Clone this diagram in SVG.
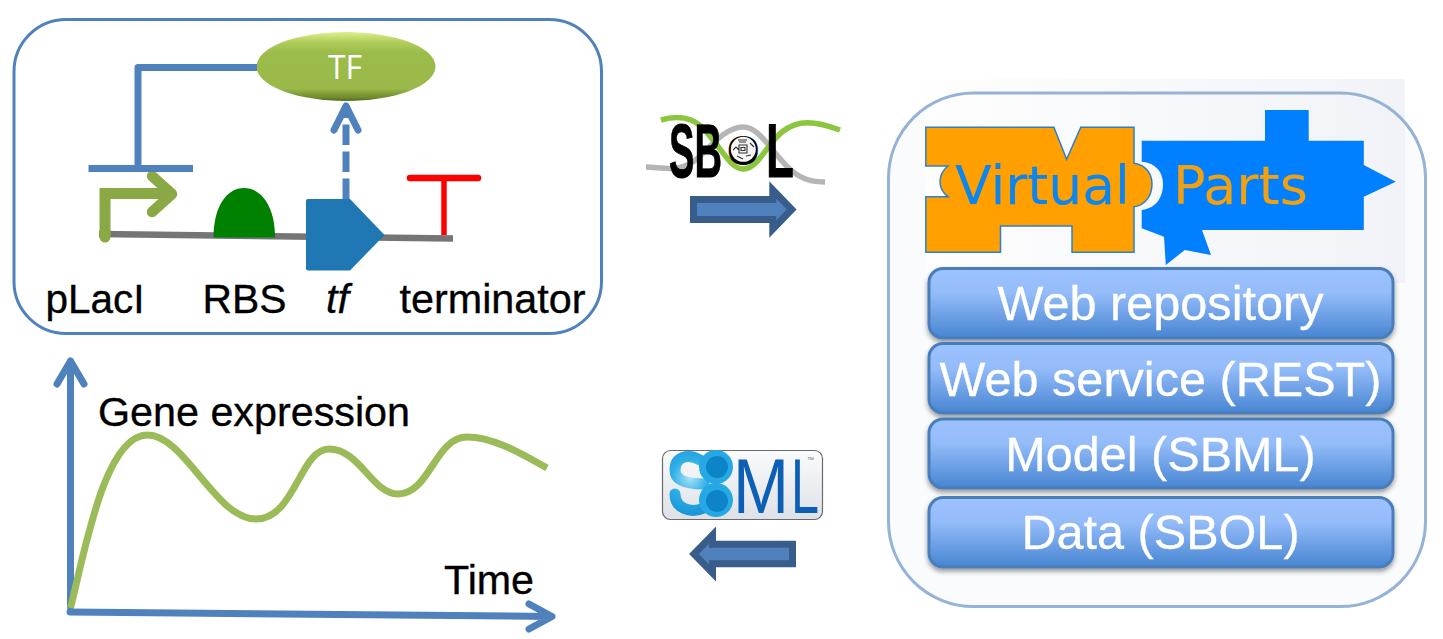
<svg xmlns="http://www.w3.org/2000/svg" width="1443" height="639" viewBox="0 0 1443 639">
<style>
text{font-family:"Liberation Sans",Arial,sans-serif}
.lbl{font-size:41px;fill:#000;stroke:#000;stroke-width:.35}
.btn{font-size:48.600px;fill:#fff;stroke:#fff;stroke-width:.3;text-anchor:middle}
.bx{stroke:#4a7ebb;stroke-width:3;fill:url(#btnG);filter:url(#sh)}
.bl{fill:none;stroke:#4f81bd;stroke-width:7;stroke-linejoin:round}
.rnd{stroke-linecap:round}
.blk{fill:#4f81bd;stroke:#385d8a;stroke-width:7;stroke-miterlimit:6}
.vp{font-family:"DejaVu Sans",sans-serif;font-size:54px}
</style>
<defs>
<linearGradient id="btnG" x1="0" y1="0" x2="0" y2="1"><stop offset="0" stop-color="#9cc2ff"/><stop offset=".35" stop-color="#94bcf9"/><stop offset="1" stop-color="#4785d2"/></linearGradient>
<linearGradient id="tfG" x1="0" y1="0" x2="0" y2="1"><stop offset="0" stop-color="#dcf08c"/><stop offset=".14" stop-color="#b2cf5c"/><stop offset=".3" stop-color="#9bbb4a"/><stop offset=".82" stop-color="#9ab94a"/><stop offset=".95" stop-color="#6f8b2c"/><stop offset="1" stop-color="#50681c"/></linearGradient>
<linearGradient id="vpG" x1="0" y1="0" x2="1" y2="0"><stop offset="0" stop-color="#fefefe"/><stop offset="1" stop-color="#f1f3f8"/></linearGradient>
<linearGradient id="smG" x1="0" y1="0" x2="0" y2="1"><stop offset="0" stop-color="#fafbfc"/><stop offset="1" stop-color="#dde1e7"/></linearGradient>
<radialGradient id="s8G" gradientUnits="userSpaceOnUse" cx="690" cy="478" r="36"><stop offset="0" stop-color="#a8e2f8"/><stop offset=".5" stop-color="#2fb0e6"/><stop offset="1" stop-color="#1a96d8"/></radialGradient>
<filter id="sh" x="-5%" y="-10%" width="110%" height="130%"><feDropShadow dx="0" dy="3" stdDeviation="2.500" flood-color="#000" flood-opacity=".4"/></filter>
</defs>
<rect width="1443" height="639" fill="#fff"/>

<g id="gene-panel"><rect x="14" y="19.500" width="587.500" height="314" rx="52" fill="#fff" stroke="#4f81bd" stroke-width="3"/></g>

<g id="dna-line"><path d="M99,234 L453,238.500" stroke="#757575" stroke-width="6.500" fill="none"/></g>
<g id="promoter"><path d="M105,235 V193.500 H171" fill="none" stroke="#8aa944" stroke-width="11" stroke-linejoin="miter"/><path d="M105,232 V237" stroke="#8aa944" stroke-width="11" stroke-linecap="round"/><path d="M152,176 L172,194 L152,212" fill="none" stroke="#8aa944" stroke-width="10.500" stroke-linecap="round" stroke-linejoin="round"/><text class="lbl" x="45.500" y="313" textLength="99" lengthAdjust="spacingAndGlyphs">pLacI</text></g>
<g id="rbs"><path d="M213.500,237.500 C213.500,206 227,188 244,188 C261,188 275,206 275,237.500 Z" fill="#008000"/><text class="lbl" x="202.500" y="313" textLength="84" lengthAdjust="spacingAndGlyphs">RBS</text></g>
<g id="cds"><path d="M306,201 Q306,199 308,199 H350 L384.500,235 L350,270.500 H308 Q306,270.500 306,268.500 Z" fill="#1f77b4"/><text class="lbl" x="326" y="313" font-style="italic">tf</text></g>
<g id="terminator"><path d="M410,178 H478" stroke="#f00" stroke-width="6.500" stroke-linecap="round" fill="none"/><path d="M444,178 V235" stroke="#f00" stroke-width="5.500" fill="none"/><text class="lbl" x="399.500" y="313" textLength="186" lengthAdjust="spacingAndGlyphs">terminator</text></g>
<g id="tf-protein"><ellipse cx="346" cy="66.500" rx="89.500" ry="34.500" fill="url(#tfG)"/><text x="345" y="79" font-size="32" fill="#fff" text-anchor="middle" style="font-family:'Open Sans',sans-serif">TF</text></g>

<g id="connectors">
<path class="bl" d="M257,67.500 H138 V168"/>
<path d="M88.500,168.500 H193" stroke="#4f81bd" stroke-width="7" fill="none"/>
<path d="M346,199 V105" fill="none" stroke="#4f81bd" stroke-width="7" stroke-dasharray="20.500 6.500"/>
<path class="bl rnd" d="M334,130 L346,106 L358,130"/>
<path class="blk" d="M693.500,199.500 H772.800 V190 L791.700,209.500 L772.800,229 V219.500 H693.500 Z"/>
<path class="blk" d="M694,554 L712.500,535 V544.200 H792.500 V563.800 H712.500 V573 Z"/>
</g>

<g id="chart">
<path class="bl rnd" d="M70.500,607 V361 M57,384 L70.500,361 L84,384"/>
<path class="bl rnd" d="M70,612 L551,616.500 M529,604 L552,616.500 L529,629"/>
<path d="M70.500,608 C85,550 105,435 147.500,435 C185,435 215,519 256,519 C295,519 300,449 329,449 C360,449 372,494 398,494 C430,494 435,437 467,437 C495,437 525,456 547,468" fill="none" stroke="#9bbb59" stroke-width="7"/>
<text class="lbl" x="98" y="426" textLength="312" lengthAdjust="spacingAndGlyphs">Gene expression</text>
<text class="lbl" x="444" y="594" textLength="90" lengthAdjust="spacingAndGlyphs">Time</text>
</g>

<g id="sbol-logo">
<path d="M646,167 C662,167 680,174 698,158 C715,141 728,127 743,127 C758,127 768,146 782,161 C795,176 806,182 825,182" fill="none" stroke="#b5b5b5" stroke-width="5.500"/>
<path d="M661,120 C675,116 690,116 702,127 C722,148 730,169 743,169 C758,169 766,145 782,132 C798,119 815,121 840,130" fill="none" stroke="#8cc63f" stroke-width="5.500"/>
<circle cx="743.300" cy="149.300" r="14" fill="#fff"/>
<text font-size="76" font-weight="700" fill="#000" stroke="#000" stroke-width=".8"><tspan x="669" y="177" textLength="53" lengthAdjust="spacingAndGlyphs">SB</tspan><tspan x="727" y="164.500" font-size="42" stroke-width="0" textLength="32.500" lengthAdjust="spacingAndGlyphs">O</tspan><tspan x="766" y="177" textLength="28" lengthAdjust="spacingAndGlyphs">L</tspan></text>
<circle cx="743.300" cy="149.300" r="12.500" fill="#f6f6f6"/>
<path d="M739,145 h8 v8 h-8 z M741,147.500 h4 v3 h-4 z M738,140 h9 M739,142 h7 M750,143 l4,4 M733,150 l3,-3 l3,3 M737,156 l6,3 M746,156 l5,-1" fill="none" stroke="#333" stroke-width="1.100"/>
</g>

<g id="sbml-logo">
<rect x="662.500" y="450.500" width="160" height="69" rx="8" fill="url(#smG)" stroke="#6a6a6a" stroke-width="1.200"/>
<g fill="none" stroke="url(#s8G)" stroke-width="11" stroke-linecap="round">
<path d="M700,460 C688,453 675,457 675,470 C675,482 690,484 704,484"/>
<path d="M675,494 C675,508 690,514 704,508"/>
</g>
<circle cx="716" cy="467" r="17" fill="#26a8e4"/><circle cx="716" cy="500" r="17" fill="#26a8e4"/>
<circle cx="717" cy="467" r="11" fill="#0e84c8"/><circle cx="717" cy="501" r="11" fill="#0e84c8"/>
<text font-size="78" fill="#0d5fb5"><tspan x="733" y="512.500" textLength="56" lengthAdjust="spacingAndGlyphs">M</tspan><tspan x="791" y="512.500" textLength="28" lengthAdjust="spacingAndGlyphs">L</tspan></text>
<text x="807" y="462" font-size="7" fill="#777">™</text>
</g>

<g id="virtual-parts-panel">
<rect x="888.500" y="93" width="537" height="513.500" rx="85" fill="#f9fbfd"/>
<rect x="925" y="79" width="480" height="204" fill="url(#vpG)"/>
<rect x="888.500" y="93" width="537" height="513.500" rx="85" fill="none" stroke="#95b3d7" stroke-width="3"/>
</g>

<g id="virtual-parts-logo">
<path d="M1141.700,140.700 H1265 V110 H1308.700 V140.700 H1363.800 V165 L1395.800,181.700 L1363.800,196.700 V230 H1202 L1211,255 L1184.800,250 L1165.800,265 L1164,236.700 L1141.700,228.300 V210 C1158,208 1163,195 1163,184 C1163,172 1156,163 1141.700,161.700 Z" fill="#0080ff"/>
<path d="M925.800,127.300 H1053.900 L1066.600,159.300 L1080.800,127.300 H1134 V163.300 C1146,165 1152,174 1152,184 C1152,195 1146,205 1134,206.700 V252.300 H1072 V226 H1000.500 V252.300 H925.800 V196.700 H948 C942,192 940,187 940,181.700 C940,176 943,170 948,166 H925.800 Z" fill="#ffa000" stroke="#2a80d0" stroke-width="1.500"/>
<text class="vp" x="955" y="204" fill="#0b85f0" textLength="175" lengthAdjust="spacingAndGlyphs">Virtual</text>
<text class="vp" x="1173" y="204" fill="#f0a010" textLength="135" lengthAdjust="spacingAndGlyphs">Parts</text>
</g>

<g id="web-repository"><rect class="bx" x="929" y="268.500" width="464" height="69.500" rx="14"/><text class="btn" x="1160.500" y="319.500">Web repository</text></g>
<g id="web-service"><rect class="bx" x="929" y="343.500" width="464" height="69.500" rx="14"/><text class="btn" x="1160.500" y="395.500">Web service (REST)</text></g>
<g id="model"><rect class="bx" x="929" y="419" width="464" height="69" rx="14"/><text class="btn" x="1160.500" y="470.500">Model (SBML)</text></g>
<g id="data"><rect class="bx" x="929" y="497.500" width="464" height="69.500" rx="14"/><text class="btn" x="1160.500" y="548.500">Data (SBOL)</text></g>
</svg>
